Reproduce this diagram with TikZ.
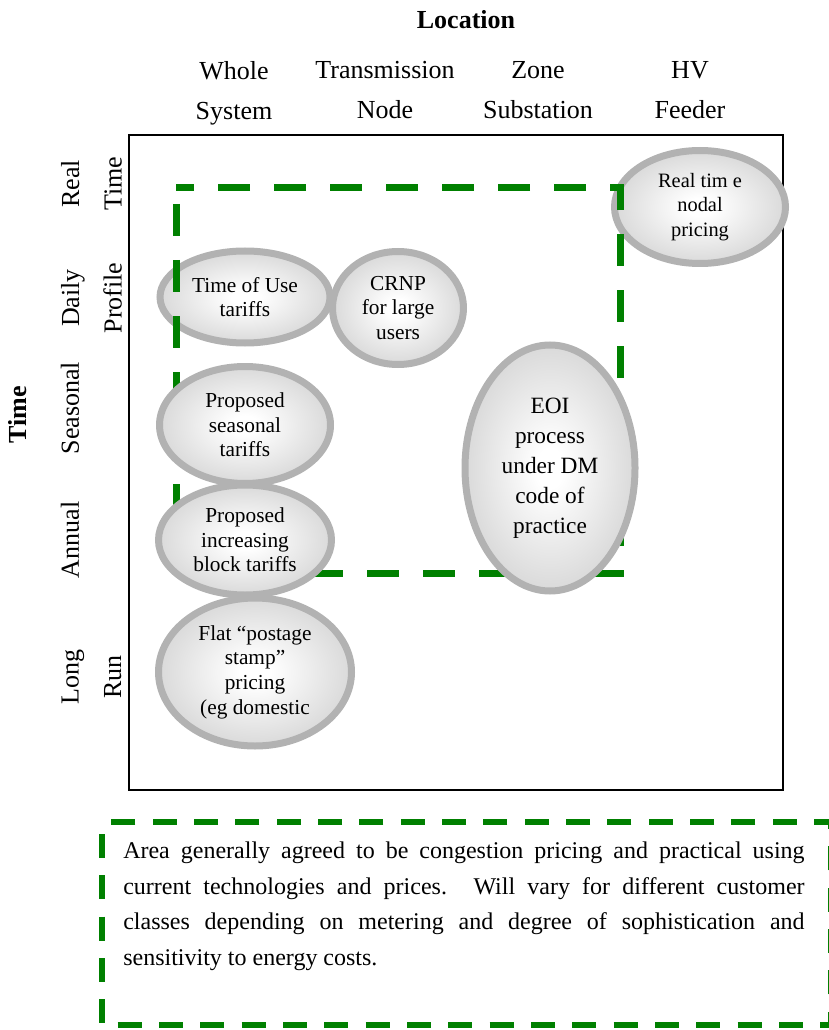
\documentclass[tikz,border=0pt]{standalone}
\usepackage{fontspec}
\setmainfont{Liberation Serif}
\usetikzlibrary{shapes.geometric}

\pgfdeclareradialshading{blobshade}{\pgfpoint{0bp}{0bp}}{%
  color(0bp)=(white); color(4bp)=(white); color(44bp)=(black!28); color(100bp)=(black!28)}

\begin{document}
\begin{tikzpicture}[x=0.75pt,y=-0.75pt,
    blob/.style={ellipse, draw=black!30, line width=5.25pt, shade, shading=blobshade,
                 align=center, inner sep=0pt, font=\fontsize{16}{18.5}\selectfont},
    zone/.style={draw=green!50!black, line width=5.25pt, dash pattern=on 24pt off 18pt, dash phase=30pt},
    notebox/.style={draw=green!50!black, line width=4.5pt, dash pattern=on 18pt off 13pt, dash phase=22pt},
    heading/.style={font=\fontsize{19.5}{30}\selectfont\bfseries},
    collabel/.style={align=center, font=\fontsize{19.5}{30}\selectfont},
    rowlabel/.style={align=center, rotate=90, font=\fontsize{19.5}{32}\selectfont}]
    \useasboundingbox (0,0) rectangle (828,1030);

    % axes titles
    \node[heading] (locaxis) at (466,20) {Location};
    \node[heading, rotate=90] (timeaxis) at (18,415) {Time};

    % location columns
    \foreach \cx/\cy/\ctext [count=\i] in {234/93/{Whole\\System}, 385/90/{Transmission\\Node},
                                           538/90/{Zone\\Substation}, 690/90/{HV\\Feeder}}{%
        \node[collabel] (col\i) at (\cx,\cy) {\ctext};
    }

    % time rows
    \node[rowlabel] (row1) at (91.5,184) {Real\\Time};
    \node[rowlabel] (row2) at (91.5,298) {Daily\\Profile};
    \node[rowlabel] (row3) at (70,408) {Seasonal};
    \node[rowlabel] (row4) at (70,540) {Annual};
    \node[rowlabel] (row5) at (91.5,677) {Long\\Run};

    \draw[line width=1.5pt] (129,135) rectangle (783,790);

    % pricing schemes
    \node[blob, minimum width=127.5pt, minimum height=69pt] (tou) at (245,297) {Time of Use\\tariffs};
    \node[blob, minimum width=98.25pt, minimum height=84.75pt] (crnp) at (398,308) {CRNP\\for large\\users};
    \node[blob, font=\fontsize{15.3}{18.4}\selectfont, minimum width=128.25pt, minimum height=84.75pt]
        (rtnp) at (700,207) {Real tim e\\nodal\\pricing};

    \draw[zone] (176,188) rectangle (620,573);

    \node[blob, minimum width=128.25pt, minimum height=87.75pt] (seasonal) at (245,425) {Proposed\\seasonal\\tariffs};
    \node[blob, minimum width=129.75pt, minimum height=82.5pt] (ibt) at (245,540) {Proposed\\increasing\\block tariffs};
    \node[blob, minimum width=144.75pt, minimum height=111pt] (flat) at (255,672) {Flat “postage\\stamp”\\pricing\\(eg domestic};
    \node[blob, font=\fontsize{17.5}{22.5}\selectfont, minimum width=127.5pt, minimum height=184.5pt]
        (eoi) at (550,468) {EOI\\process\\under DM\\code of\\practice};

    % legend
    \draw[notebox] (102,822) rectangle (831,1025);
    \node[anchor=north west, text width=511pt, align=justify, inner sep=0pt,
          font=\fontsize{18}{26.6}\selectfont] (note) at (123,842)
        {Area generally agreed to be congestion pricing and practical using\linebreak
         current technologies and prices.  Will vary for different customer\linebreak
         classes depending on metering and degree of sophistication and\linebreak
         sensitivity to energy costs.};
\end{tikzpicture}
\end{document}
